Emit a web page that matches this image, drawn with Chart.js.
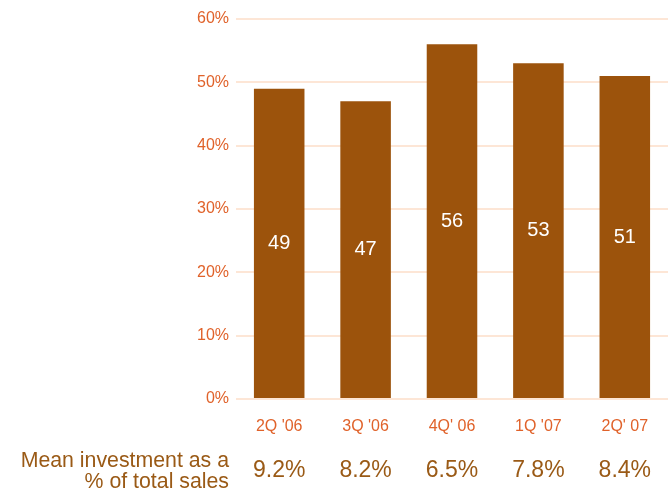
<!DOCTYPE html>
<html>
<head>
<meta charset="utf-8">
<script src="https://cdn.jsdelivr.net/npm/chart.js@4"></script>
<style>
  html, body { margin: 0; padding: 0; background: #fff; }
  #wrap { width: 671px; height: 491px; position: relative; }
</style>
</head>
<body>
<div id="wrap"><canvas id="investChart" width="671" height="491"></canvas></div>
<script>
const quarters = ["2Q '06", "3Q '06", "4Q' 06", "1Q '07", "2Q' 07"];
const shareValues = [49, 47, 56, 53, 51];
const salesShare = ['9.2%', '8.2%', '6.5%', '7.8%', '8.4%'];
const rowTitle = ['Mean investment as a', '% of total sales'];

const FONT = "'Liberation Sans', Arial, sans-serif";
const BAR = '#9C530C';
const TICK = '#E0622A';
const BROWN = '#9A5A16';

// white numbers in the middle of each bar
const barLabels = {
  id: 'barLabels',
  afterDatasetsDraw(chart) {
    const ctx = chart.ctx;
    const meta = chart.getDatasetMeta(0);
    ctx.save();
    ctx.fillStyle = '#fff';
    ctx.font = '20px ' + FONT;
    ctx.textAlign = 'center';
    ctx.textBaseline = 'middle';
    meta.data.forEach((bar, i) => {
      const mid = (bar.y + bar.base) / 2;
      ctx.fillText(String(shareValues[i]), bar.x, mid);
    });
    ctx.restore();
  }
};

// extra row under the axis: share of total sales
const salesRow = {
  id: 'salesRow',
  afterDraw(chart) {
    const ctx = chart.ctx;
    const xs = chart.scales.x;
    ctx.save();
    ctx.fillStyle = BROWN;
    ctx.textBaseline = 'middle';
    ctx.font = '23px ' + FONT;
    ctx.textAlign = 'center';
    salesShare.forEach((v, i) => {
      ctx.fillText(v, xs.getPixelForValue(i), 471);
    });
    ctx.font = '21.3px ' + FONT;
    ctx.textAlign = 'right';
    ctx.fillText(rowTitle[0], 229, 461);
    ctx.fillText(rowTitle[1], 229, 482);
    ctx.restore();
  }
};

new Chart(document.getElementById('investChart'), {
  type: 'bar',
  data: {
    labels: quarters,
    datasets: [{
      data: shareValues,
      backgroundColor: BAR,
      barPercentage: 0.65,
      categoryPercentage: 0.9
    }]
  },
  options: {
    responsive: false,
    animation: false,
    layout: { padding: { top: 19, right: 3, left: 0, bottom: 0 } },
    plugins: {
      legend: { display: false },
      tooltip: { enabled: false }
    },
    scales: {
      y: {
        min: 0,
        max: 60,
        ticks: {
          stepSize: 10,
          color: TICK,
          padding: 7,
          font: { family: FONT, size: 16 },
          callback: v => v + '%'
        },
        grid: { color: '#FDE6D6', lineWidth: 2, drawTicks: false },
        border: { display: false },
        afterFit(scale) { scale.width = 236; }
      },
      x: {
        ticks: {
          color: TICK,
          padding: 18,
          font: { family: FONT, size: 16 }
        },
        grid: { display: false, drawTicks: false },
        border: { display: false },
        afterFit(scale) { scale.height = 92; }
      }
    }
  },
  plugins: [barLabels, salesRow]
});
</script>
</body>
</html>
